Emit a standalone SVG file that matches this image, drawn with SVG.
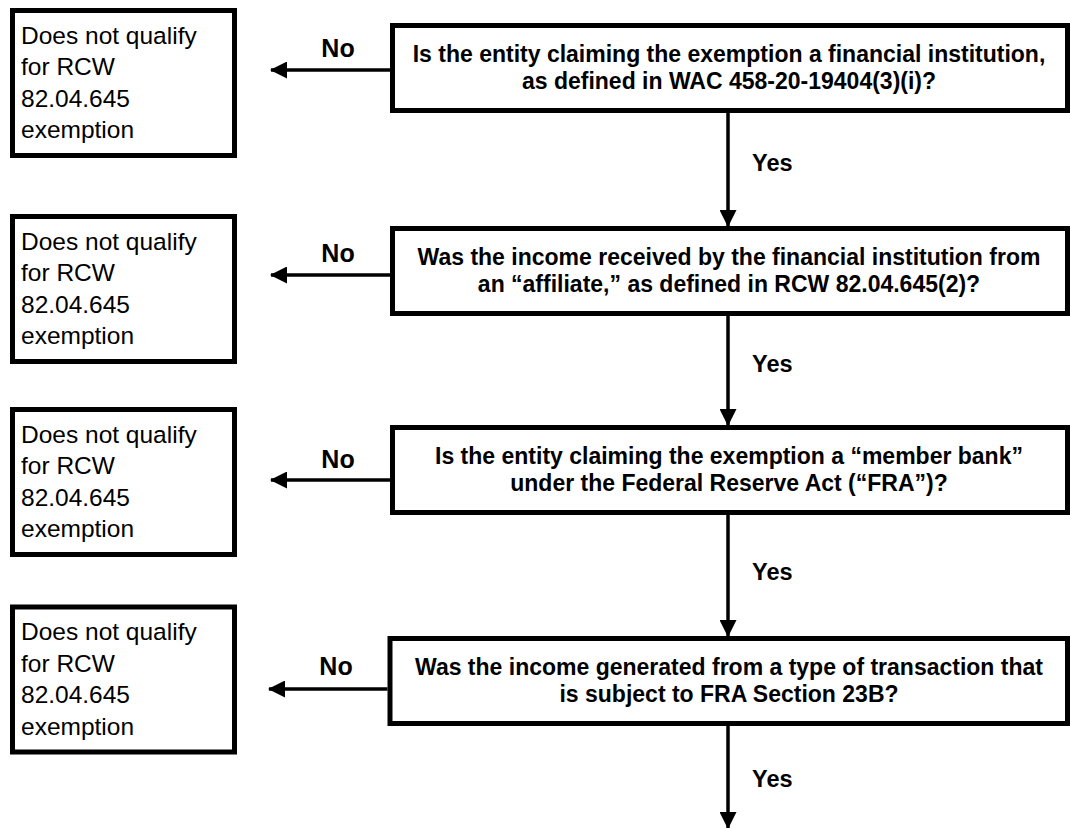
<svg xmlns="http://www.w3.org/2000/svg" width="1070" height="828" viewBox="0 0 1070 828">
<style>
.box{fill:#fff;stroke:#000;stroke-width:5}
.q{font-family:"Liberation Sans",Arial,sans-serif;font-weight:bold;font-size:23px;text-anchor:middle;fill:#000}
.o{font-family:"Liberation Sans",Arial,sans-serif;font-size:24.5px;fill:#000}
.lbl{font-family:"Liberation Sans",Arial,sans-serif;font-weight:bold;font-size:23.5px;fill:#000}
.no{font-size:25px;text-anchor:middle}
.c{fill:none;stroke:#000;stroke-width:3.5}
</style>
<defs>
<marker id="ah" markerUnits="userSpaceOnUse" markerWidth="17" markerHeight="17" viewBox="0 0 17 17" refX="16" refY="8.5" orient="auto">
<path d="M0,0 L17,8.5 L0,17 z" fill="#000"/>
</marker>
</defs>
<rect width="1070" height="828" fill="#fff"/>

<g id="q1">
<rect class="box" x="392.5" y="25.5" width="675" height="85"/>
<text class="q" x="729" y="62">Is the entity claiming the exemption a financial institution,</text>
<text class="q" x="729" y="89">as defined in WAC 458-20-19404(3)(i)?</text>
</g>
<g id="q2">
<rect class="box" x="392.5" y="228.5" width="675" height="85"/>
<text class="q" x="729" y="265">Was the income received by the financial institution from</text>
<text class="q" x="729" y="292">an “affiliate,” as defined in RCW 82.04.645(2)?</text>
</g>
<g id="q3">
<rect class="box" x="392.5" y="427.5" width="675" height="85"/>
<text class="q" x="729" y="464">Is the entity claiming the exemption a “member bank”</text>
<text class="q" x="729" y="491">under the Federal Reserve Act (“FRA”)?</text>
</g>
<g id="q4">
<rect class="box" x="390" y="638.5" width="677.5" height="85"/>
<text class="q" x="729" y="675">Was the income generated from a type of transaction that</text>
<text class="q" x="729" y="702">is subject to FRA Section 23B?</text>
</g>

<g id="n1">
<rect class="box" x="12.5" y="10.5" width="222" height="145"/>
<text class="o" x="21" y="43.5">Does not qualify</text>
<text class="o" x="21" y="75">for RCW</text>
<text class="o" x="21" y="106.5">82.04.645</text>
<text class="o" x="21" y="138">exemption</text>
</g>
<g id="n2">
<rect class="box" x="12.5" y="216.5" width="222" height="145"/>
<text class="o" x="21" y="249.5">Does not qualify</text>
<text class="o" x="21" y="281">for RCW</text>
<text class="o" x="21" y="312.5">82.04.645</text>
<text class="o" x="21" y="344">exemption</text>
</g>
<g id="n3">
<rect class="box" x="12.5" y="409.5" width="222" height="145"/>
<text class="o" x="21" y="442.5">Does not qualify</text>
<text class="o" x="21" y="474">for RCW</text>
<text class="o" x="21" y="505.5">82.04.645</text>
<text class="o" x="21" y="537">exemption</text>
</g>
<g id="n4">
<rect class="box" x="12.5" y="607" width="222" height="145"/>
<text class="o" x="21" y="640">Does not qualify</text>
<text class="o" x="21" y="671.5">for RCW</text>
<text class="o" x="21" y="703">82.04.645</text>
<text class="o" x="21" y="734.5">exemption</text>
</g>

<g id="connectors">
<line class="c" x1="390" y1="70" x2="271" y2="70" marker-end="url(#ah)"/>
<line class="c" x1="390" y1="275" x2="271" y2="275" marker-end="url(#ah)"/>
<line class="c" x1="390" y1="480" x2="271" y2="480" marker-end="url(#ah)"/>
<line class="c" x1="387.5" y1="689" x2="269" y2="689" marker-end="url(#ah)"/>
<line class="c" x1="728" y1="113" x2="728" y2="226" marker-end="url(#ah)"/>
<line class="c" x1="728" y1="316" x2="728" y2="425" marker-end="url(#ah)"/>
<line class="c" x1="728" y1="515" x2="728" y2="636" marker-end="url(#ah)"/>
<line class="c" x1="728" y1="726" x2="728" y2="828" marker-end="url(#ah)"/>
<text class="lbl no" x="338" y="57">No</text>
<text class="lbl no" x="338" y="262">No</text>
<text class="lbl no" x="338" y="468">No</text>
<text class="lbl no" x="336" y="675">No</text>
<text class="lbl" x="752" y="171">Yes</text>
<text class="lbl" x="752" y="372">Yes</text>
<text class="lbl" x="752" y="580">Yes</text>
<text class="lbl" x="752" y="787">Yes</text>
</g>
</svg>
